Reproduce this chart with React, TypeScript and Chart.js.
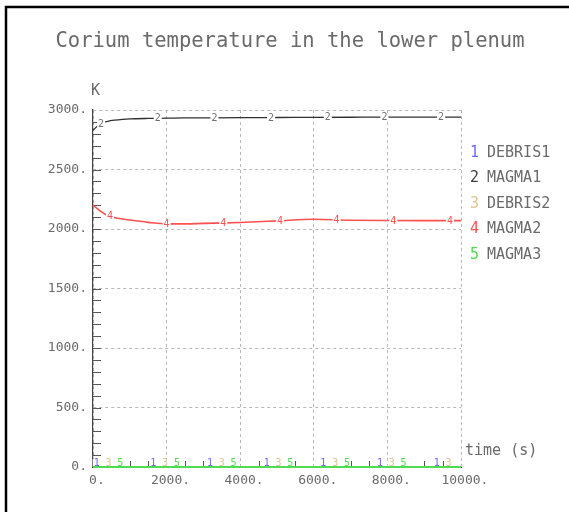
import React, { useEffect, useRef } from "react";
import { Chart, registerables } from "chart.js";

Chart.register(...registerables);

// ---- data ----
const times = [0, 200, 400, 600, 800, 1000, 1500, 2000, 2500, 3000, 4000, 5000, 6000, 7000, 8000, 9000, 10000];
const debris1 = [0, 0, 0, 0, 0, 0, 0, 0, 0, 0, 0, 0, 0, 0, 0, 0, 0];
const magma1 = [2830, 2885, 2905, 2915, 2921, 2925, 2929, 2931, 2933, 2934, 2936, 2937, 2938, 2939, 2940, 2940, 2940];
const debris2 = [0, 0, 0, 0, 0, 0, 0, 0, 0, 0, 0, 0, 0, 0, 0, 0, 0];
const magma2 = [2200, 2150, 2112, 2095, 2084, 2075, 2056, 2043, 2043, 2047, 2055, 2068, 2082, 2074, 2071, 2070, 2070];
const magma3 = [0, 0, 0, 0, 0, 0, 0, 0, 0, 0, 0, 0, 0, 0, 0, 0, 0];

const seriesNames = ["DEBRIS1", "MAGMA1", "DEBRIS2", "MAGMA2", "MAGMA3"];
const seriesNumbers = ["1", "2", "3", "4", "5"];
const seriesValues = [debris1, magma1, debris2, magma2, magma3];
const seriesColors = ["#6a6aff", "#303030", "#dcc494", "#ff5050", "#50dc50"];
const seriesWidths = [1.5, 1.3, 1.5, 1.6, 2];
const curveLabelStarts = [100, 220, 420, 460, 740];
const curveLabelInterval = 1540;

const titleText = "Corium temperature in the lower plenum";
const yUnit = "K";
const xUnit = "time (s)";

const xMin = 0, xMax = 10000, xMajor = 2000, xMinor = 500;
const yMin = 0, yMax = 3000, yMajor = 500, yMinor = 100;

const FONT = "'DejaVu Sans Mono', monospace";
const TEXT = "#6a6a6a";

function interp(vals: number[], t: number) {
  for (let i = 0; i < times.length - 1; i++) {
    if (t >= times[i] && t <= times[i + 1]) {
      const f = (t - times[i]) / (times[i + 1] - times[i]);
      return vals[i] + f * (vals[i + 1] - vals[i]);
    }
  }
  return vals[vals.length - 1];
}

function drawCurveLabels(chart: any, which: number[]) {
  const { ctx, chartArea, scales } = chart;
  const x = scales.x, y = scales.y;
  ctx.save();
  ctx.font = `10px ${FONT}`;
  ctx.textAlign = "center";
  ctx.textBaseline = "middle";
  for (const s of which) {
    for (let t = curveLabelStarts[s]; t <= xMax - 200; t += curveLabelInterval) {
      const v = interp(seriesValues[s], t);
      const px = x.getPixelForValue(t);
      let py = y.getPixelForValue(v);
      if (py > chartArea.bottom - 4) py = chartArea.bottom - 4;
      const w = ctx.measureText(seriesNumbers[s]).width + 2;
      ctx.fillStyle = "#ffffff";
      ctx.fillRect(px - w / 2, py - 4, w, 8);
      ctx.fillStyle = s === 1 ? "#707070" : seriesColors[s];
      ctx.fillText(seriesNumbers[s], px, py + 0.5);
    }
  }
  ctx.restore();
}

const overlay = {
  id: "overlay",
  beforeDatasetsDraw(chart: any) {
    const { ctx, chartArea, scales } = chart;
    const x = scales.x, y = scales.y;
    ctx.save();
    ctx.strokeStyle = "#555";
    ctx.lineWidth = 1;
    ctx.beginPath();
    for (let v = yMin + yMinor; v < yMax; v += yMinor) {
      const py = Math.round(y.getPixelForValue(v)) + 0.5;
      ctx.moveTo(chartArea.left, py);
      ctx.lineTo(chartArea.left + 8, py);
    }
    for (let v = xMin + xMinor; v < xMax; v += xMinor) {
      if (v % xMajor === 0) continue;
      const px = Math.round(x.getPixelForValue(v)) + 0.5;
      ctx.moveTo(px, chartArea.bottom);
      ctx.lineTo(px, chartArea.bottom - 6);
    }
    ctx.stroke();
    ctx.restore();
    drawCurveLabels(chart, [0, 2, 4]);
  },
  afterDatasetsDraw(chart: any) {
    drawCurveLabels(chart, [1, 3]);
  },
  afterDraw(chart: any) {
    const { ctx, width } = chart;
    ctx.save();
    // frame
    ctx.strokeStyle = "#000";
    ctx.lineWidth = 2.5;
    ctx.beginPath();
    ctx.moveTo(6, 520);
    ctx.lineTo(6, 7);
    ctx.lineTo(width + 5, 7);
    ctx.stroke();
    // title
    ctx.fillStyle = TEXT;
    ctx.font = `20.5px ${FONT}`;
    ctx.textAlign = "center";
    ctx.textBaseline = "middle";
    ctx.fillText(titleText, 290, 42);
    // axis units
    ctx.font = `15px ${FONT}`;
    ctx.textAlign = "left";
    ctx.fillText(yUnit, 91, 91);
    ctx.fillText(xUnit, 465, 451);
    // legend
    for (let i = 0; i < seriesNames.length; i++) {
      const yy = 153 + i * 25.5;
      ctx.fillStyle = i === 1 ? "#404040" : seriesColors[i];
      ctx.fillText(seriesNumbers[i], 470, yy);
      ctx.fillStyle = TEXT;
      ctx.fillText(seriesNames[i], 487, yy);
    }
    ctx.restore();
  },
};

export default function App() {
  const ref = useRef<HTMLCanvasElement>(null);
  useEffect(() => {
    document.body.style.margin = "0";
    const canvas = ref.current!;
    const datasets = seriesValues.map((vals, i) => ({
      label: seriesNames[i],
      data: times.map((t, k) => ({ x: t, y: vals[k] })),
      borderColor: seriesColors[i],
      backgroundColor: seriesColors[i],
      borderWidth: seriesWidths[i],
      pointRadius: 0,
      cubicInterpolationMode: "monotone" as const,
      order: i === 4 ? 0 : i + 1,
      clip: 4,
    }));
    const chart = new Chart(canvas, {
      type: "line",
      data: { datasets },
      options: {
        animation: false,
        responsive: false,
        events: [],
        layout: { padding: { left: 0, right: 108, top: 110, bottom: 0 } },
        plugins: { legend: { display: false }, tooltip: { enabled: false }, title: { display: false } },
        scales: {
          x: {
            type: "linear",
            min: xMin,
            max: xMax,
            ticks: {
              stepSize: xMajor,
              color: TEXT,
              font: { family: FONT, size: 13 },
              padding: 6,
              maxRotation: 0,
              callback: (v: any) => " " + v + ".",
            },
            grid: { color: "#b8b8b8", lineWidth: 1, drawTicks: false },
            border: { display: true, color: "#444", width: 1, dash: [3, 3] },
            afterFit: (s: any) => { s.height = 45; },
          },
          y: {
            type: "linear",
            min: yMin,
            max: yMax,
            ticks: {
              stepSize: yMajor,
              color: TEXT,
              font: { family: FONT, size: 13 },
              padding: 6,
              callback: (v: any) => v + ".",
            },
            grid: { color: "#b8b8b8", lineWidth: 1, drawTicks: false },
            border: { display: true, color: "#444", width: 1.2, dash: [3, 3] },
            afterFit: (s: any) => { s.width = 93; },
          },
        },
      },
      plugins: [overlay],
    });
    return () => chart.destroy();
  }, []);
  return (
    <div style={{ width: 569, height: 512 }}>
      <canvas ref={ref} width={569} height={512} />
    </div>
  );
}
